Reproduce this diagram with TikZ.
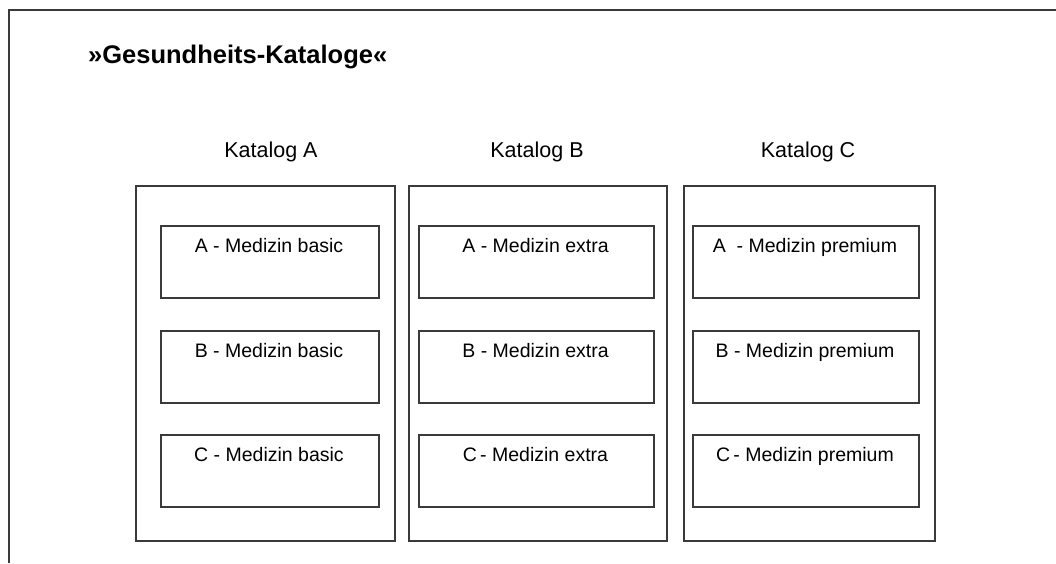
\documentclass[tikz,border=0pt]{standalone}
\usepackage{fontspec}
\setmainfont{Liberation Sans}
\definecolor{linegray}{HTML}{3A3A3A}
\begin{document}
\begin{tikzpicture}[x=1pt,y=-1pt,
  frameline/.style={draw=linegray,line width=2pt},
  colbox/.style={draw=linegray,line width=1.6pt,rectangle,inner sep=0pt,anchor=north west},
  itembox/.style={draw=linegray,line width=1.6pt,rectangle,inner sep=0pt,anchor=north west,minimum height=72pt},
  itemtext/.style={anchor=base,inner sep=0pt,font=\fontsize{19.5}{23}\selectfont},
  coltitle/.style={anchor=base,inner sep=0pt,font=\fontsize{21.5}{26}\selectfont},
  maintitle/.style={anchor=base west,inner sep=0pt,font=\bfseries\fontsize{25.5}{30}\selectfont}]
\useasboundingbox (0,0) rectangle (1056,563);
\coordinate (fb) at (9,563);
\coordinate (fc) at (9,10);
\coordinate (fr) at (1056,10);
\draw[frameline] (fb) -- (fc) -- (fr);
\node[maintitle] (title) at (88,63) {»Gesundheits-Kataloge«};
% columns
\node[colbox,minimum width=259pt,minimum height=355pt] (colA) at (135,185) {};
\node[colbox,minimum width=258pt,minimum height=355pt] (colB) at (408,185) {};
\node[colbox,minimum width=251pt,minimum height=355pt] (colC) at (683,185) {};
\node[coltitle] (tA) at (271,157) {Katalog A};
\node[coltitle] (tB) at (537,157) {Katalog B};
\node[coltitle] (tC) at (808,157) {Katalog C};
% items A
\node[itembox,minimum width=218pt] (a1) at (160,225) {};
\node[itembox,minimum width=218pt] (a2) at (160,330) {};
\node[itembox,minimum width=218pt] (a3) at (160,434) {};
\node[itemtext] at (269,252) {A - Medizin basic};
\node[itemtext] at (269,357) {B - Medizin basic};
\node[itemtext] at (269,461) {C - Medizin basic};
% items B
\node[itembox,minimum width=235pt] (b1) at (418,225) {};
\node[itembox,minimum width=235pt] (b2) at (418,330) {};
\node[itembox,minimum width=235pt] (b3) at (418,434) {};
\node[itemtext] at (535.5,252) {A - Medizin extra};
\node[itemtext] at (535.5,357) {B - Medizin extra};
\node[itemtext] at (535.5,461) {C\,- Medizin extra};
% items C
\node[itembox,minimum width=226pt] (c1) at (692,225) {};
\node[itembox,minimum width=226pt] (c2) at (692,330) {};
\node[itembox,minimum width=226pt] (c3) at (692,434) {};
\node[itemtext] at (805,252) {A \ - Medizin premium};
\node[itemtext] at (805,357) {B - Medizin premium};
\node[itemtext] at (805,461) {C\,- Medizin premium};
\end{tikzpicture}
\end{document}
